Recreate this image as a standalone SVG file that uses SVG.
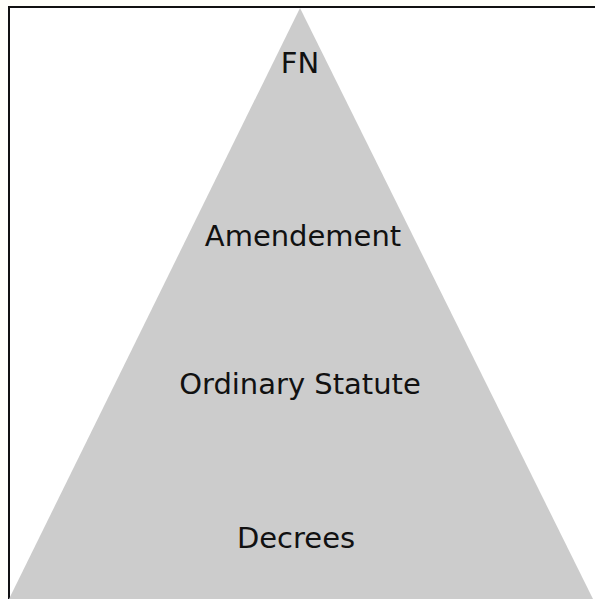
<svg xmlns="http://www.w3.org/2000/svg" width="595" height="599" viewBox="0 0 595 599">
<style>
.lbl{font-family:"DejaVu Sans","Noto Sans",sans-serif;font-size:29px;fill:#111;text-anchor:middle}
</style>
<rect x="0" y="0" width="595" height="599" fill="#fffffa"/>
<rect x="9" y="7" width="600" height="600" fill="#ffffff" stroke="#111" stroke-width="2"/>
<g id="pyramid">
<polygon points="300,8 9,599 593,599" fill="#cccccc"/>
</g>
<g id="connectors"></g>
<g id="fn"><text class="lbl" x="300" y="73">FN</text></g>
<g id="amendement"><text class="lbl" x="303" y="246">Amendement</text></g>
<g id="ordinary"><text class="lbl" x="300" y="394">Ordinary Statute</text></g>
<g id="decrees"><text class="lbl" x="296" y="548">Decrees</text></g>
</svg>
